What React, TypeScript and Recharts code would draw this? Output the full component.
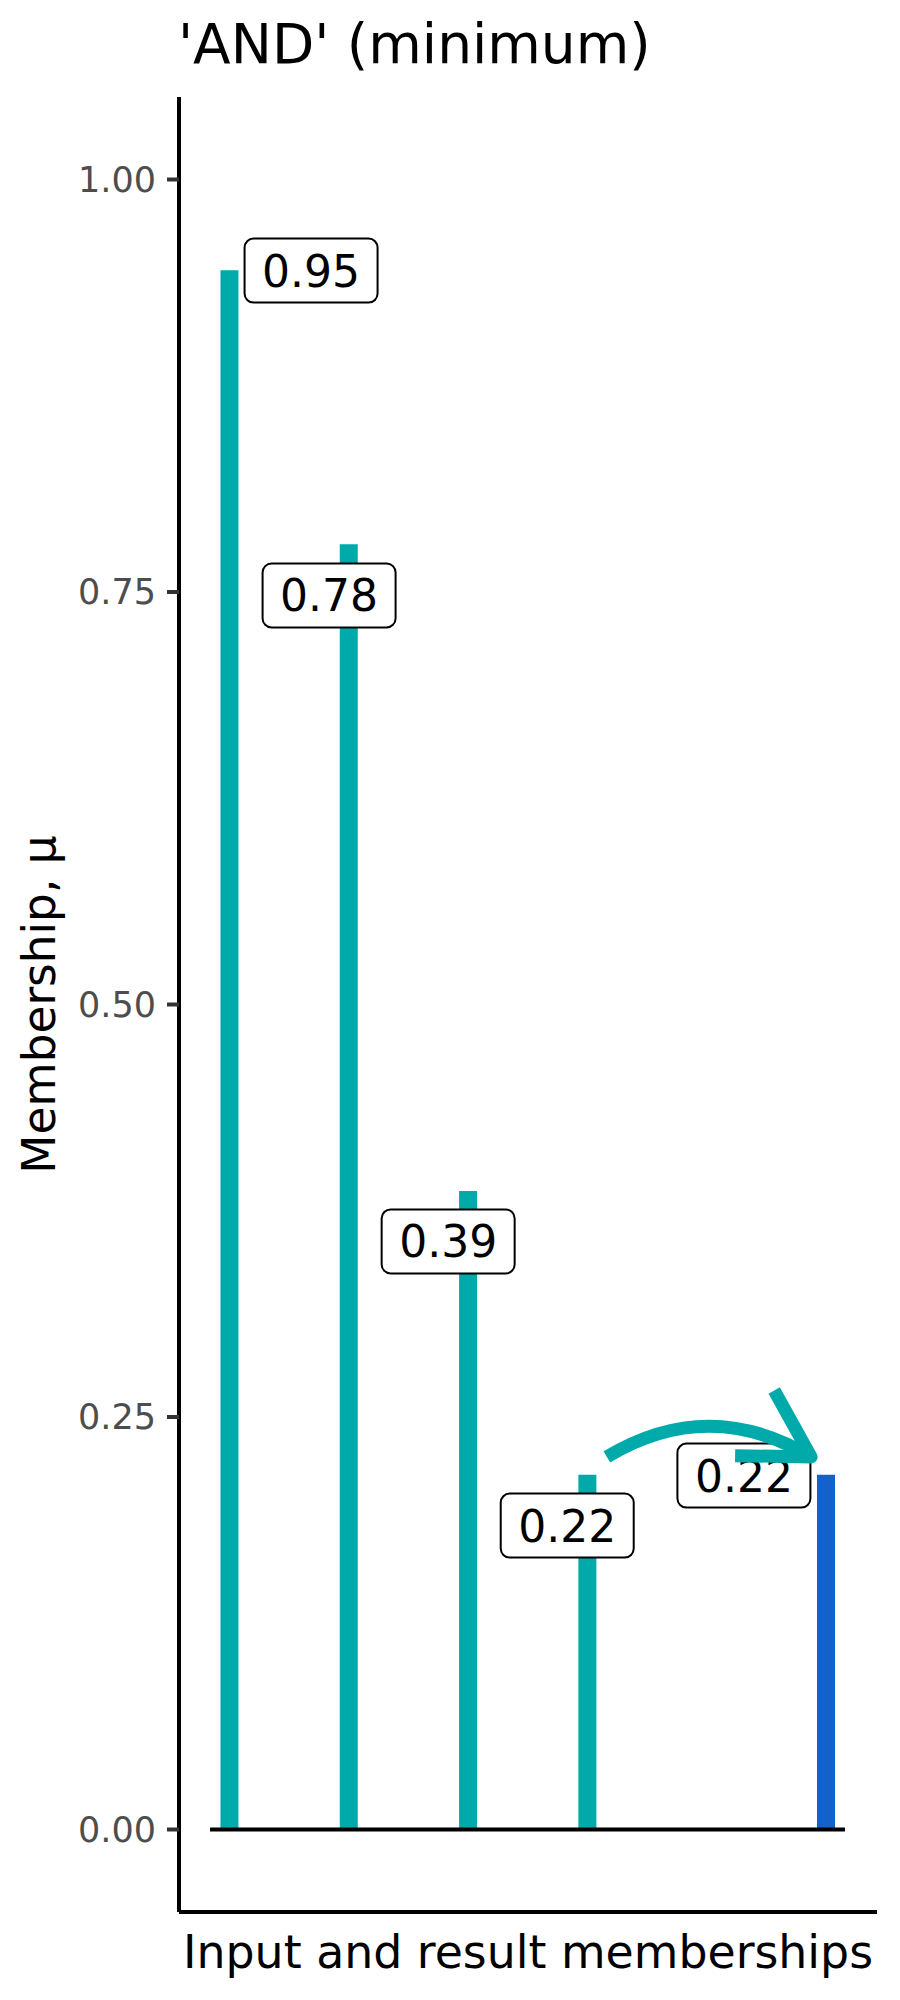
import React from "react";
import {
    ComposedChart, Bar, Cell, Scatter, XAxis, YAxis, ReferenceLine,
} from "recharts";

// bar positions on the x scale (slot 5 is left empty)
const positions = [1, 2, 3, 4, 6];
const memberships = [0.945, 0.779, 0.387, 0.215, 0.215];
const barColors = ["#00AAAA", "#00AAAA", "#00AAAA", "#00AAAA", "#1461CC"];

// repelled label boxes
const labelTexts = ["0.95", "0.78", "0.39", "0.22", "0.22"];
const labelX = [1.684, 1.835, 2.833, 3.831, 5.312];
const labelY = [0.9448, 0.7479, 0.3564, 0.1842, 0.2145];

const yTicks = [0, 0.25, 0.5, 0.75, 1];

// curved arrow from the last input to the result
const arrowFrom = { x: 4.163, y: 0.2258 };
const arrowTo = { x: 5.875, y: 0.2258 };

// baseline segment at zero
const zeroFrom = { x: 0.837, y: 0 };
const zeroTo = { x: 6.159, y: 0 };

const FONT = "'DejaVu Sans', sans-serif";
const TEAL = "#00AAAA";

const barData = positions.map((p, i) => ({ x: p, value: memberships[i] }));
const labelData = labelTexts.map((t, i) => ({ x: labelX[i], y: labelY[i], text: t }));

const LabelBox = (props: any) => {
    const { cx, cy, payload } = props;
    const w = 133;
    const h = 64;
    return (
        <g>
            <rect x={cx - w / 2} y={cy - h / 2} width={w} height={h} rx={9} ry={9}
                fill="#ffffff" stroke="#000000" strokeWidth={2} />
            <text x={cx} y={cy + 16} textAnchor="middle" fontSize={44} fontFamily={FONT} fill="#000000">
                {payload.text}
            </text>
        </g>
    );
};

const CurvedArrow = (props: any) => {
    const { x1, y1, x2, y2 } = props;
    const len = Math.hypot(x2 - x1, y2 - y1);
    const cxp = (x1 + x2) / 2;
    const cyp = (y1 + y2) / 2 - 0.3 * len;
    const ang = Math.atan2(y2 - cyp, x2 - cxp);
    const head = 76;
    const back = ang + Math.PI;
    const h1x = x2 + head * Math.cos(back + Math.PI / 6);
    const h1y = y2 + head * Math.sin(back + Math.PI / 6);
    const h2x = x2 + head * Math.cos(back - Math.PI / 6);
    const h2y = y2 + head * Math.sin(back - Math.PI / 6);
    return (
        <g fill="none" stroke={TEAL} strokeWidth={13}>
            <path d={`M${x1},${y1} Q${cxp},${cyp} ${x2},${y2}`} strokeLinecap="butt" />
            <path d={`M${h1x},${h1y} L${x2},${y2} L${h2x},${h2y}`} strokeLinecap="butt" strokeLinejoin="round" />
        </g>
    );
};

export default function App() {
    return (
        <div style={{ position: "absolute", left: 0, top: 0, width: 900, height: 2000, background: "#fff" }}>
            <svg width={900} height={97} style={{ position: "absolute", left: 0, top: 0 }}>
                <text x={178} y={63} fontSize={55} fontFamily={FONT} fill="#000000">'AND' (minimum)</text>
            </svg>
            <ComposedChart width={900} height={2000} data={barData}
                margin={{ top: 97, right: 23, bottom: 0, left: 0 }}>
                <XAxis type="number" dataKey="x" domain={[0.577, 6.4275]} allowDataOverflow
                    ticks={[]} tick={false} tickLine={false} height={88}
                    axisLine={{ stroke: "#000000", strokeWidth: 4 }}
                    label={{
                        content: (p: any) => (
                            <text x={p.viewBox.x + p.viewBox.width / 2} y={1968} textAnchor="middle"
                                fontSize={45.8} fontFamily={FONT} fill="#000000">
                                Input and result memberships
                            </text>
                        ),
                    }} />
                <YAxis type="number" dataKey="y" domain={[-0.05, 1.05]} allowDataOverflow
                    ticks={yTicks} width={179} tickSize={12} tickMargin={11}
                    tickFormatter={(v: number) => v.toFixed(2)}
                    tick={{ fontSize: 35, fontFamily: FONT, fill: "#4D4D4D" }}
                    tickLine={{ stroke: "#333333", strokeWidth: 4 }}
                    axisLine={{ stroke: "#000000", strokeWidth: 4 }}
                    label={{
                        content: (p: any) => {
                            const cy = p.viewBox.y + p.viewBox.height / 2;
                            return (
                                <text x={55} y={cy} transform={`rotate(-90 55 ${cy})`} textAnchor="middle"
                                    fontSize={45.4} fontFamily={FONT} fill="#000000">
                                    Membership, μ
                                </text>
                            );
                        },
                    }} />
                <Bar dataKey="value" barSize={18} isAnimationActive={false}>
                    {barData.map((d, i) => (
                        <Cell key={i} fill={barColors[i]} />
                    ))}
                </Bar>
                <ReferenceLine segment={[zeroFrom, zeroTo]} stroke="#000000" strokeWidth={4} ifOverflow="visible" />
                <Scatter data={labelData} dataKey="y" shape={LabelBox} isAnimationActive={false} />
                <ReferenceLine segment={[arrowFrom, arrowTo]} ifOverflow="visible" shape={CurvedArrow}
                    {...({ zIndex: 700 } as any)} />
            </ComposedChart>
        </div>
    );
}
